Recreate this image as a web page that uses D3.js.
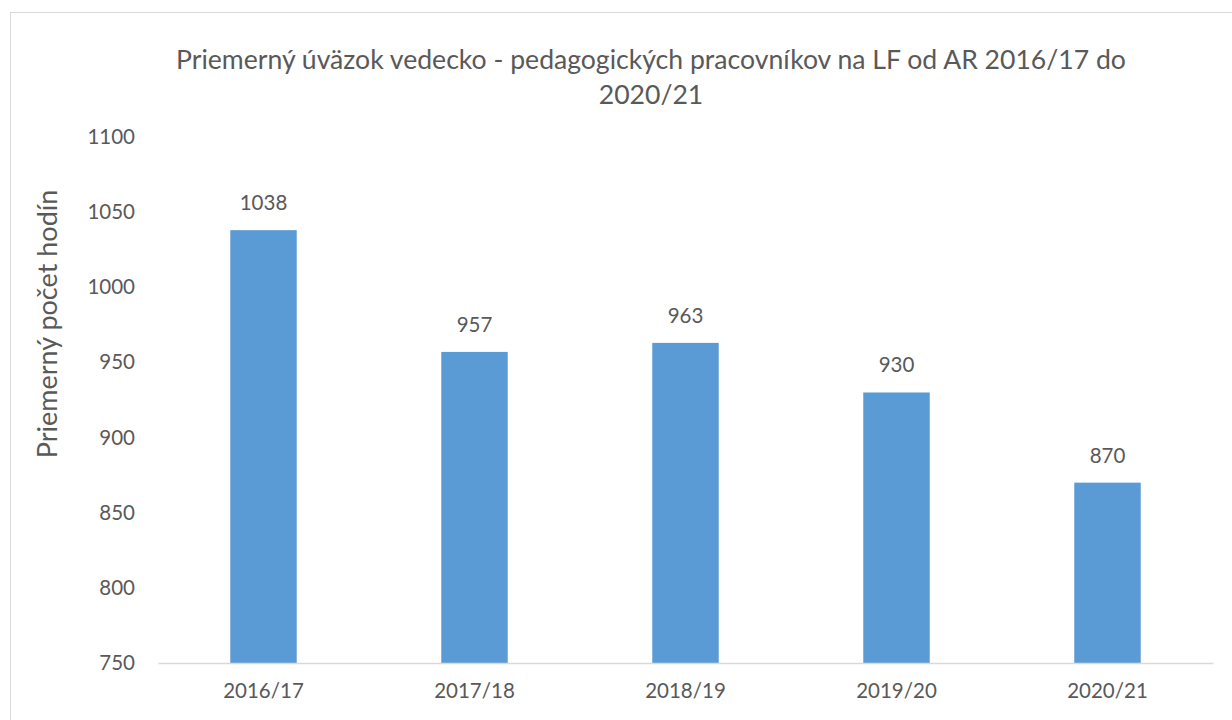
<!DOCTYPE html>
<html>
<head>
<meta charset="utf-8">
<script src="https://cdn.jsdelivr.net/npm/d3@7"></script>
<style>
  body { margin: 0; background: #fff; }
  text { font-family: Lato, "Open Sans", sans-serif; fill: #595959; }
</style>
</head>
<body>
<svg id="chart" width="1232" height="720"></svg>
<script>
const years = ["2016/17", "2017/18", "2018/19", "2019/20", "2020/21"];
const hours = [1038, 957, 963, 930, 870];
const yTicks = [750, 800, 850, 900, 950, 1000, 1050, 1100];
const titleLines = ["Priemerný úväzok vedecko - pedagogických pracovníkov na LF od AR 2016/17 do", "2020/21"];
const yLabel = "Priemerný počet hodín";

const svg = d3.select("#chart");

// chart frame
svg.append("rect")
    .attr("x", 10.5).attr("y", 12.5)
    .attr("width", 1230).attr("height", 720)
    .attr("fill", "none")
    .attr("stroke", "#d9d9d9");

const x = d3.scaleBand()
    .domain(years)
    .range([158, 1213])
    .paddingInner(0.685)
    .paddingOuter(0.3425);

const y = d3.scaleLinear().domain([750, 1100]).range([663, 137]);

// title
svg.append("text")
    .attr("x", 651).attr("y", 69)
    .attr("text-anchor", "middle")
    .style("font-size", "26.6px")
    .selectAll("tspan")
    .data(titleLines)
    .join("tspan")
    .attr("x", 651)
    .attr("dy", (d, i) => i === 0 ? 0 : 35)
    .text(d => d);

// y axis (labels only)
const yAxis = svg.append("g")
    .attr("transform", "translate(158,0)")
    .call(d3.axisLeft(y).tickValues(yTicks).tickFormat(d3.format("d")).tickSize(0).tickPadding(23));
yAxis.select(".domain").remove();
yAxis.selectAll("text")
    .style("font-size", "20.5px")
    .style("font-family", "Lato, sans-serif")
    .attr("fill", "#595959");

svg.append("text")
    .attr("transform", "translate(57,324) rotate(-90)")
    .attr("text-anchor", "middle")
    .style("font-size", "27px")
    .text(yLabel);

// bars
svg.append("g")
    .selectAll("rect")
    .data(hours)
    .join("rect")
    .attr("x", (d, i) => x(years[i]))
    .attr("y", d => y(d))
    .attr("width", x.bandwidth())
    .attr("height", d => y(750) - y(d))
    .attr("fill", "#5b9bd5");

// value labels
svg.append("g")
    .selectAll("text")
    .data(hours)
    .join("text")
    .attr("x", (d, i) => x(years[i]) + x.bandwidth() / 2)
    .attr("y", d => y(d) - 20)
    .attr("text-anchor", "middle")
    .style("font-size", "20.5px")
    .text(d => d);

// x axis
const xAxis = svg.append("g")
    .attr("transform", "translate(0,663)")
    .call(d3.axisBottom(x).tickSize(0).tickPadding(20));
xAxis.select(".domain")
    .attr("stroke", "#d9d9d9")
    .attr("stroke-width", 1.5);
xAxis.selectAll("text")
    .style("font-size", "20.5px")
    .style("font-family", "Lato, sans-serif")
    .attr("fill", "#595959");
</script>
</body>
</html>
